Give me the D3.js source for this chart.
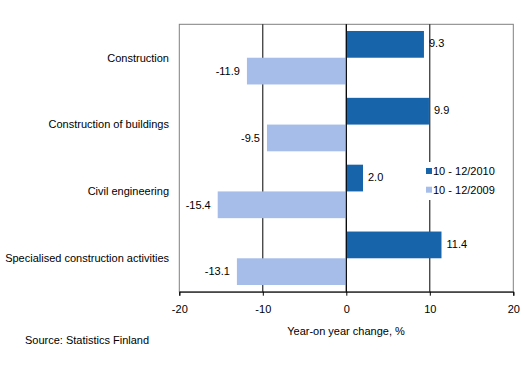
<!DOCTYPE html>
<html><head><meta charset="utf-8">
<script src="https://cdn.jsdelivr.net/npm/d3@7"></script>
<style>
body{margin:0;background:#fff;}
text{font-family:"Liberation Sans",Arial,sans-serif;font-size:11px;fill:#000;}
</style></head>
<body><svg id="c" width="528" height="380"></svg>
<script>
const categories = ["Construction","Construction of buildings","Civil engineering","Specialised construction activities"];
const seriesNames = ["10 - 12/2010","10 - 12/2009"];
const values2010 = [9.3, 9.9, 2.0, 11.4];
const values2009 = [-11.9, -9.5, -15.4, -13.1];
const xTicks = [-20,-10,0,10,20];
const colors = ["#1764AB","#A6BDEA"];

const svg = d3.select("#c");
const L=179.3, R=513.3, T=24.3, B=291.7;
const x = d3.scaleLinear().domain([-20,20]).range([L,R]);
const y = d3.scaleBand().domain(categories).range([T,B]).paddingInner(0).paddingOuter(0);
const bw = y.bandwidth();
const barH = bw/2.5;
const off = (bw - 2*barH)/2;

// plot border
svg.append("rect").attr("x",L).attr("y",T).attr("width",R-L).attr("height",B-T)
  .attr("fill","none").attr("stroke","#808080").attr("stroke-width",1);

// gridlines
svg.append("g").selectAll("line").data([-10,0,10]).join("line")
  .attr("x1",d=>x(d)).attr("x2",d=>x(d)).attr("y1",T).attr("y2",B)
  .attr("stroke","#000").attr("stroke-width",1);

const series = [values2010, values2009];
series.forEach((vals,si)=>{
  const g = svg.append("g");
  g.selectAll("rect").data(categories).join("rect")
    .attr("x",(c,i)=>x(Math.min(0,vals[i])))
    .attr("width",(c,i)=>Math.abs(x(vals[i])-x(0)))
    .attr("y",c=>y(c)+off+si*barH)
    .attr("height",barH)
    .attr("fill",colors[si]);
  g.selectAll("text").data(categories).join("text")
    .attr("x",(c,i)=>vals[i]>=0 ? x(vals[i])+5 : x(vals[i])-7)
    .attr("y",c=>y(c)+off+si*barH+barH/2 - (si===0?1:0))
    .attr("dy","0.35em")
    .attr("text-anchor",(c,i)=>vals[i]>=0?"start":"end")
    .text((c,i)=>vals[i].toFixed(1));
});

// zero line on top
svg.append("line").attr("x1",x(0)).attr("x2",x(0)).attr("y1",T).attr("y2",B).attr("stroke","#000");

// x axis
const ax = svg.append("g").attr("transform",`translate(0,${B})`)
  .call(d3.axisBottom(x).tickValues(xTicks).tickSize(4).tickPadding(10).tickFormat(d=>String(d)));
ax.select(".domain").attr("stroke","#000");
ax.selectAll(".tick line").attr("stroke","#000");
ax.selectAll("text").style("font-size","11px").attr("font-family",null);

// category labels
svg.append("g").selectAll("text").data(categories).join("text")
  .attr("x",169).attr("y",c=>y(c)+bw/2).attr("dy","0.35em").attr("text-anchor","end")
  .text(c=>c);

// legend
const lg = svg.append("g").attr("transform","translate(423,162)");
lg.append("rect").attr("x",0).attr("y",0).attr("width",48).attr("height",38).attr("fill","#fff");
seriesNames.forEach((n,i)=>{
  lg.append("rect").attr("x",3).attr("y",6+i*18.7).attr("width",6).attr("height",6).attr("fill",colors[i]);
  lg.append("text").attr("x",10).attr("y",9+i*18.7).attr("dy","0.35em").text(n);
});

// axis title & source
svg.append("text").attr("x",346).attr("y",331).attr("dy","0.35em").attr("text-anchor","middle").text("Year-on year change, %");
svg.append("text").attr("x",25).attr("y",340).attr("dy","0.35em").text("Source: Statistics Finland");
</script></body></html>
